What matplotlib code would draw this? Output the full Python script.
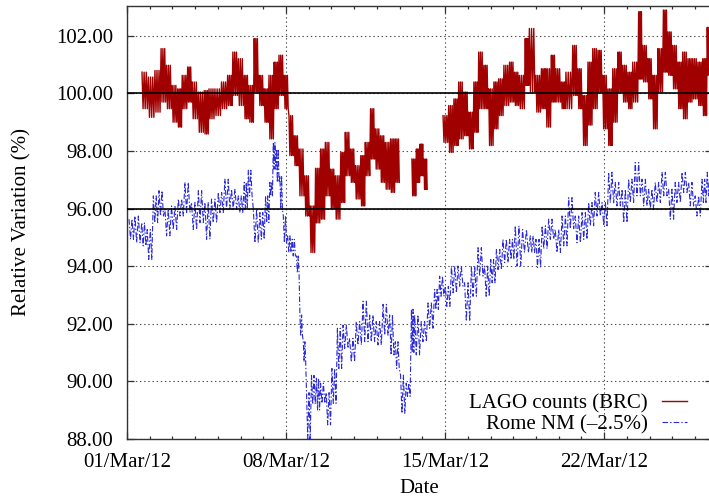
import numpy as np
import matplotlib
matplotlib.use('Agg')
import matplotlib.pyplot as plt
import matplotlib.dates as mdates
from datetime import datetime

plt.rcParams['font.family'] = ['Liberation Serif', 'DejaVu Serif']
plt.rcParams['lines.scale_dashes'] = False

start = datetime(2012, 3, 1)
nan = np.nan

# ---- LAGO counts (BRC): envelope of the noisy band, days after 01/Mar/12 ----
lago_day = [0.66, 0.94, 1.23, 1.50, 1.74, 1.99, 2.23, 2.43, 2.67, 2.87,
            3.14, 3.40, 3.61, 3.87, 4.16, 4.43, 4.66, 4.90, 5.16, 5.37,
            5.60, 5.81, 6.04, 6.25, 6.48, 6.69, 6.92, 7.13, 7.36, 7.57,
            7.83, 8.06, 8.30, 8.52, 8.73, 8.96, 9.17, 9.41, 9.61, 9.84,
            10.05, 10.29, 10.49, 10.72, 10.93, 11.16, 11.37, 11.60, 11.81, nan,
            12.54, 12.74, 12.90, 13.07, nan,
            13.91, 14.16, 14.39, 14.60, 14.83, 15.04, 15.27, 15.48, 15.71, 15.92,
            16.15, 16.36, 16.59, 16.84, 17.06, 17.27, 17.53, 17.71, 18.00, 18.24,
            18.44, 18.68, 18.88, 19.12, 19.32, 19.62, 19.85, 20.06, 20.29, 20.50,
            20.73, 20.94, 21.17, 21.38, 21.61, 21.82, 22.05, 22.26, 22.52, 22.70,
            22.93, 23.14, 23.37, 23.61, 23.81, 24.02, 24.25, 24.46, 24.69, 24.90,
            25.13, 25.34, 25.54]
lago_hi = [100.74, 100.57, 100.80, 101.56, 100.98, 100.28, 100.16, 100.63, 100.92, 100.40,
           100.05, 100.10, 100.16, 100.16, 100.40, 100.63, 101.44, 101.21, 100.63, 100.28,
           101.91, 100.63, 100.16, 100.63, 101.09, 101.33, 100.63, 99.23, 98.53, 98.07,
           97.14, 96.09, 97.40, 98.07, 98.30, 97.37, 97.14, 97.95, 98.65, 98.07,
           97.49, 97.84, 98.30, 99.47, 98.77, 98.53, 98.30, 98.42, 98.42, nan,
           97.72, 98.07, 98.24, 97.72, nan,
           99.23, 99.58, 99.81, 100.40, 100.05, 99.35, 100.40, 101.44, 100.98, 100.16,
           100.40, 100.51, 100.98, 101.09, 100.74, 100.63, 101.91, 102.26, 100.63, 100.86,
           100.86, 101.33, 100.86, 100.40, 100.74, 101.67, 100.86, 99.93, 101.09, 101.56,
           101.50, 100.63, 100.16, 100.86, 101.44, 100.98, 100.74, 101.09, 102.84, 101.67,
           101.21, 100.63, 101.56, 102.90, 102.14, 101.67, 101.09, 101.44, 101.21, 101.21,
           101.09, 101.21, 102.30]
lago_lo = [99.47, 99.17, 99.35, 99.70, 99.47, 99.00, 98.83, 99.47, 99.70, 99.12,
           98.65, 98.59, 99.12, 99.23, 99.47, 99.58, 99.93, 99.58, 99.12, 99.00,
           100.05, 99.58, 99.00, 98.42, 99.47, 99.93, 99.47, 97.84, 97.49, 96.44,
           95.74, 94.47, 95.50, 95.63, 96.44, 96.00, 95.63, 96.21, 97.14, 96.91,
           96.33, 96.09, 97.14, 97.72, 97.37, 96.91, 96.67, 96.56, 96.91, nan,
           96.44, 96.91, 97.14, 96.67, nan,
           98.30, 97.95, 98.19, 98.42, 98.53, 98.07, 98.65, 99.47, 99.47, 98.19,
           98.77, 99.23, 99.58, 99.70, 99.58, 99.47, 100.28, 100.05, 99.35, 99.47,
           98.83, 99.70, 99.70, 99.47, 99.47, 99.93, 99.47, 98.19, 98.90, 99.47,
           100.05, 98.77, 98.19, 99.00, 100.05, 99.70, 99.47, 99.70, 100.50, 100.40,
           99.81, 98.77, 100.05, 100.74, 100.63, 100.16, 99.47, 99.12, 99.70, 99.81,
           99.58, 99.23, 100.63]

# ---- Rome NM (-2.5%) ----
rome_day = [0.09, 0.35, 0.65, 0.89, 1.16, 1.41, 1.67, 1.96, 2.26, 2.55,
            2.84, 3.14, 3.43, 3.72, 4.02, 4.31, 4.60, 4.90, 5.16, 5.34,
            5.56, 5.85, 6.10, 6.29, 6.44, 6.58, 6.73, 6.88, 7.07, 7.27,
            7.46, 7.61, 7.76, 7.90, 8.12, 8.34, 8.52, 8.77, 9.02, 9.26,
            9.51, 9.80, 10.09, 10.39, 10.68, 10.97, 11.27, 11.56, 11.81, 12.04,
            12.29, 12.52, 12.66, 12.95, 13.25, 13.54, 13.76, 14.01, 14.28, 14.57,
            14.86, 15.16, 15.45, 15.74, 16.01, 16.26, 16.55, 16.84, 17.09, 17.41,
            17.75, 18.00, 18.27, 18.56, 18.85, 19.15, 19.44, 19.73, 20.03, 20.32,
            20.61, 20.91, 21.20, 21.49, 21.79, 22.08, 22.37, 22.67, 22.96, 23.25,
            23.55, 23.84, 24.13, 24.43, 24.72, 25.01, 25.31, 25.54]
rome_hi = [95.63, 95.74, 95.51, 95.27, 96.44, 96.62, 95.98, 96.09, 96.33, 96.91,
           96.21, 96.62, 96.21, 96.33, 96.56, 97.02, 96.67, 96.44, 96.91, 97.33,
           95.98, 95.86, 96.44, 96.91, 98.30, 98.07, 97.14, 95.74, 95.05, 94.93,
           94.35, 92.30, 91.37, 89.60, 90.20, 90.10, 89.93, 89.60, 90.44, 91.84,
           91.95, 91.49, 92.07, 92.78, 92.30, 92.07, 92.67, 92.30, 91.37, 90.21,
           89.93, 92.50, 92.30, 92.07, 92.72, 93.19, 93.65, 93.30, 94.00, 94.00,
           93.42, 94.00, 94.64, 94.00, 94.23, 94.58, 94.93, 94.93, 95.40, 95.27,
           95.05, 94.93, 95.40, 95.63, 95.27, 95.74, 96.38, 95.74, 95.86, 96.21,
           96.56, 96.21, 97.26, 96.91, 96.67, 97.02, 97.60, 97.02, 96.67, 96.91,
           97.26, 96.67, 96.91, 97.26, 96.91, 96.44, 97.02, 97.26]
rome_lo = [94.93, 94.81, 94.70, 94.23, 95.51, 95.74, 95.05, 95.27, 95.74, 95.86,
           95.27, 95.51, 94.93, 95.51, 95.86, 95.98, 95.98, 95.86, 95.98, 96.44,
           94.81, 94.93, 95.51, 96.44, 97.37, 96.91, 95.98, 94.81, 94.47, 94.35,
           93.77, 91.60, 90.67, 88.00, 89.20, 89.00, 89.23, 88.48, 89.23, 90.44,
           91.14, 90.67, 91.26, 91.37, 91.37, 91.26, 91.60, 90.91, 90.44, 88.88,
           89.47, 91.00, 90.91, 91.37, 91.84, 92.49, 92.95, 92.60, 93.07, 93.30,
           92.08, 92.95, 93.65, 92.95, 93.42, 93.88, 94.12, 94.23, 94.00, 94.47,
           94.47, 93.95, 94.60, 94.93, 94.47, 94.70, 95.30, 94.81, 94.93, 95.40,
           95.74, 95.40, 96.20, 96.09, 95.51, 96.21, 96.44, 96.09, 95.98, 96.21,
           96.44, 95.63, 96.21, 96.56, 96.09, 95.74, 96.21, 96.44]

tick_days = [1, 8, 15, 22]


def scribble(days, hi, lo, reps=2):
    # zigzag between the read upper / lower envelope inside each sample interval
    days = np.asarray(days, float)
    xs, ys = [], []
    for i in range(len(days)):
        if np.isnan(days[i]):
            xs.append(nan)
            ys.append(nan)
            continue
        if i + 1 < len(days) and not np.isnan(days[i + 1]):
            step = days[i + 1] - days[i]
        else:
            step = days[i] - days[i - 1]
        for k in range(2 * reps):
            xs.append(days[i] + step * k / (2 * reps))
            ys.append(hi[i] if k % 2 == 0 else lo[i])
    return mdates.date2num(start) + np.array(xs), np.array(ys)


fig = plt.figure(figsize=(7.09, 5.0), dpi=100)
ax = fig.add_axes([127 / 709, 61.3 / 500, 585 / 709, 432.7 / 500])

x, y = scribble(lago_day, lago_hi, lago_lo, reps=3)
ax.plot(x, y, color='#a00000', lw=1.0, label='LAGO counts (BRC)', zorder=4)
x, y = scribble(rome_day, rome_hi, rome_lo, reps=2)
ax.plot(x, y, color='#2a2ad8', lw=0.8, linestyle=(0, (4, 1.5, 1, 1.5)),
        label='Rome NM (\u20132.5%)', zorder=5)

ax.axhline(100, color='black', lw=1.2, zorder=6)
ax.axhline(96, color='black', lw=1.2, zorder=6)

t0 = mdates.date2num(start)
ax.set_xlim(t0, t0 + 585 / 22.72)
ax.set_ylim(88, 103.04)

ax.xaxis.set_major_locator(mdates.DayLocator(bymonthday=tick_days))
ax.xaxis.set_minor_locator(mdates.DayLocator())
ax.xaxis.set_major_formatter(mdates.DateFormatter('%d/%b/%y'))
ax.set_yticks(np.arange(88, 103, 2))
ax.yaxis.set_major_formatter(plt.FormatStrFormatter('%.2f'))

ax.tick_params(which='both', direction='in', top=True, right=True,
               labelsize=15, pad=10, color='0.2')
ax.tick_params(which='major', length=5, width=0.9)
ax.tick_params(which='minor', length=2.5, width=0.9)
ax.grid(True, which='major', linestyle=(0, (1, 2)), color='0.3', lw=0.8)
for s in ax.spines.values():
    s.set_color('0.2')
    s.set_linewidth(1.0)

ax.set_xlabel('Date', fontsize=15, labelpad=5)
ax.set_ylabel('Relative Variation (%)', fontsize=15, labelpad=18)

ax.legend(loc='lower right', bbox_to_anchor=(687 / 709, 66 / 500),
          bbox_transform=fig.transFigure, frameon=False, markerfirst=False,
          fontsize=15, handlelength=1.2, handletextpad=0.7, labelspacing=0.05,
          borderpad=0, borderaxespad=0)

fig.savefig('out.png', dpi=100)
